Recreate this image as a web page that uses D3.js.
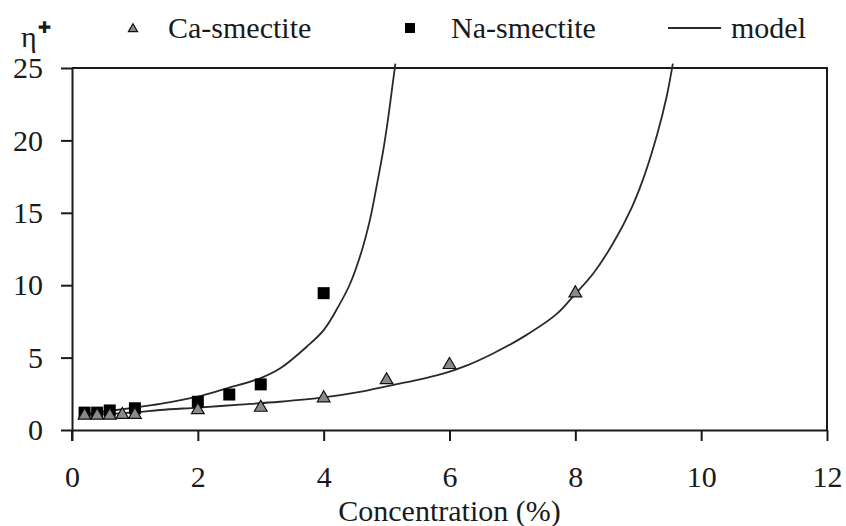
<!DOCTYPE html>
<html>
<head>
<meta charset="utf-8">
<script src="https://cdn.jsdelivr.net/npm/d3@7"></script>
<style>
  html, body { margin: 0; padding: 0; background: #fff; }
  svg text { font-family: "Liberation Serif", "Tinos", "Times New Roman", Times, "DejaVu Serif", serif; fill: #1a1a1a; }
</style>
</head>
<body>
<svg id="chart" width="846" height="526"></svg>
<script>
// Relative viscosity vs. clay concentration
const xTicks = [0, 2, 4, 6, 8, 10, 12];
const yTicks = [0, 5, 10, 15, 20, 25];

const caConc = [0.2, 0.4, 0.6, 0.8, 1.0, 2, 3, 4, 5, 6, 8];
const caEta  = [1.0, 1.0, 1.0, 1.05, 1.05, 1.38, 1.55, 2.2, 3.45, 4.5, 9.45];

const naConc = [0.2, 0.4, 0.6, 1.0, 2, 2.5, 3, 4];
const naEta  = [1.2, 1.2, 1.35, 1.5, 1.95, 2.45, 3.15, 9.45];

// model curves (sampled)
const caModelConc = [0.2, 1.0, 1.4, 2.0, 2.67, 3.3, 4.0, 4.6, 5.1, 5.9, 6.3, 6.7, 7.2, 7.7, 8.0, 8.3, 8.6, 8.9, 9.1, 9.3, 9.45, 9.55];
const caModelEta  = [1.03, 1.22, 1.38, 1.55, 1.75, 1.95, 2.25, 2.65, 3.1, 3.9, 4.5, 5.3, 6.5, 8.0, 9.4, 10.9, 12.9, 15.4, 17.6, 20.4, 23.0, 25.3];

const naModelConc = [0.2, 1.0, 1.4, 2.0, 2.46, 2.99, 3.31, 3.73, 4.0, 4.23, 4.42, 4.60, 4.74, 4.84, 4.95, 5.03, 5.10, 5.14];
const naModelEta  = [1.1, 1.55, 1.8, 2.3, 2.87, 3.57, 4.26, 5.75, 6.9, 8.5, 10.1, 12.3, 14.6, 16.8, 19.4, 21.7, 24.0, 25.3];

const legendLabels = ["Ca-smectite", "Na-smectite", "model"];

const svg = d3.select("#chart");
const x = d3.scaleLinear().domain([0, 12]).range([72, 827]);
const y = d3.scaleLinear().domain([0, 25]).range([430, 68]);

const FS = 30;
const ink = "#1a1a1a";
const serif = "'Liberation Serif', Tinos, 'Times New Roman', Times, 'DejaVu Serif', serif";

// frame (top and right edges)
svg.append("path")
  .attr("d", `M${x(0)},${y(25)}H${x(12)}V${y(0)}`)
  .attr("fill", "none").attr("stroke", ink).attr("stroke-width", 2);

// bottom axis
const xAxis = svg.append("g").attr("transform", `translate(0,${y(0)})`)
  .call(d3.axisBottom(x).tickValues(xTicks).tickSize(11).tickSizeOuter(0).tickPadding(25).tickFormat(d3.format("d")));
// left axis
const yAxis = svg.append("g").attr("transform", `translate(${x(0)},0)`)
  .call(d3.axisLeft(y).tickValues(yTicks).tickSize(11).tickSizeOuter(0).tickPadding(18).tickFormat(d3.format("d")));

[xAxis, yAxis].forEach(g => {
  g.attr("font-family", serif);
  g.select(".domain").attr("stroke", ink).attr("stroke-width", 2);
  g.selectAll(".tick line").attr("stroke", ink).attr("stroke-width", 2);
  g.selectAll(".tick text").attr("font-size", FS).attr("fill", ink)
    .style("font-family", serif);
});
// left axis line runs a little past the bottom axis
svg.append("line").attr("x1", x(0)).attr("x2", x(0)).attr("y1", y(0)).attr("y2", y(0) + 11)
  .attr("stroke", ink).attr("stroke-width", 2);

// axis title
svg.append("text").attr("x", x(6)).attr("y", 521).attr("text-anchor", "middle")
  .attr("font-size", FS).style("font-family", serif).text("Concentration (%)");

// y-axis symbol
const yl = svg.append("text").attr("x", 21).attr("y", 47).attr("font-size", FS).style("font-family", serif);
yl.append("tspan").text("η");
yl.append("tspan").attr("dx", 1).attr("dy", -14).attr("font-size", 16)
  .style("font-family", "'DejaVu Sans', sans-serif").style("font-weight", "bold").text("✚");

// model lines
const line = d3.line().x(d => x(d[0])).y(d => y(d[1])).curve(d3.curveCatmullRom.alpha(0.5));
[[caModelConc, caModelEta], [naModelConc, naModelEta]].forEach(([cs, es]) => {
  svg.append("path").datum(d3.zip(cs, es)).attr("d", line)
    .attr("fill", "none").attr("stroke", "#2a2a2a").attr("stroke-width", 1.8);
});

// Na-smectite squares
const sq = 12;
svg.append("g").selectAll("rect").data(d3.zip(naConc, naEta)).join("rect")
  .attr("x", d => x(d[0]) - sq / 2).attr("y", d => y(d[1]) - sq / 2)
  .attr("width", sq).attr("height", sq).attr("fill", "#000");

// Ca-smectite triangles
const tri = d3.symbol().type(d3.symbolTriangle).size(70);
svg.append("g").selectAll("path").data(d3.zip(caConc, caEta)).join("path")
  .attr("transform", d => `translate(${x(d[0])},${y(d[1])})`)
  .attr("d", tri).attr("fill", "#8a8a8a").attr("stroke", "#111").attr("stroke-width", 1.2);

// legend
const lg = svg.append("g").style("font-family", serif);
lg.append("path").attr("transform", "translate(133,29)")
  .attr("d", d3.symbol().type(d3.symbolTriangle).size(36))
  .attr("fill", "#8a8a8a").attr("stroke", "#111").attr("stroke-width", 1.2);
lg.append("text").attr("x", 168).attr("y", 38).attr("font-size", FS).text(legendLabels[0]);
lg.append("rect").attr("x", 405).attr("y", 23).attr("width", 10).attr("height", 10).attr("fill", "#000");
lg.append("text").attr("x", 451).attr("y", 38).attr("font-size", FS).text(legendLabels[1]);
lg.append("line").attr("x1", 668).attr("x2", 721).attr("y1", 28).attr("y2", 28)
  .attr("stroke", "#2a2a2a").attr("stroke-width", 2);
lg.append("text").attr("x", 731).attr("y", 38).attr("font-size", FS).text(legendLabels[2]);
</script>
</body>
</html>
